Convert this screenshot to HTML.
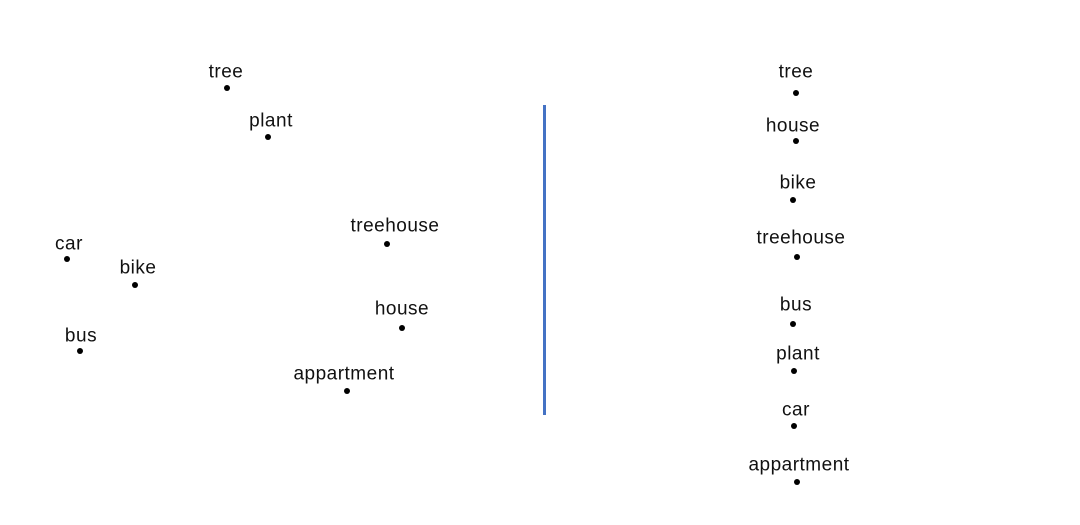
<!DOCTYPE html>
<html><head><style>
body{margin:0;width:1080px;height:525px;background:#fff;position:relative;overflow:hidden;font-family:"Liberation Sans",sans-serif}
.t{position:absolute;font-size:19px;letter-spacing:0.5px;color:#111;transform:translate(-50%,-50%);white-space:nowrap;line-height:1}
.d{position:absolute;width:6px;height:6px;border-radius:50%;background:#000;transform:translate(-50%,-50%)}
</style></head><body>
<div style="position:absolute;left:543px;top:105px;width:3px;height:310px;background:#4472c4"></div>
<div class="t" style="left:226px;top:72px">tree</div><div class="d" style="left:227px;top:88px"></div>
<div class="t" style="left:271px;top:121px">plant</div><div class="d" style="left:268px;top:137px"></div>
<div class="t" style="left:395px;top:226px">treehouse</div><div class="d" style="left:387px;top:244px"></div>
<div class="t" style="left:69px;top:244px">car</div><div class="d" style="left:67px;top:259px"></div>
<div class="t" style="left:138px;top:268px">bike</div><div class="d" style="left:135px;top:285px"></div>
<div class="t" style="left:81px;top:336px">bus</div><div class="d" style="left:80px;top:351px"></div>
<div class="t" style="left:402px;top:309px">house</div><div class="d" style="left:402px;top:328px"></div>
<div class="t" style="left:344px;top:374px">appartment</div><div class="d" style="left:347px;top:391px"></div>

<div class="t" style="left:796px;top:72px">tree</div><div class="d" style="left:796px;top:93px"></div>
<div class="t" style="left:793px;top:126px">house</div><div class="d" style="left:796px;top:141px"></div>
<div class="t" style="left:798px;top:183px">bike</div><div class="d" style="left:793px;top:200px"></div>
<div class="t" style="left:801px;top:238px">treehouse</div><div class="d" style="left:797px;top:257px"></div>
<div class="t" style="left:796px;top:305px">bus</div><div class="d" style="left:793px;top:324px"></div>
<div class="t" style="left:798px;top:354px">plant</div><div class="d" style="left:794px;top:371px"></div>
<div class="t" style="left:796px;top:410px">car</div><div class="d" style="left:794px;top:426px"></div>
<div class="t" style="left:799px;top:465px">appartment</div><div class="d" style="left:797px;top:482px"></div>
</body></html>
